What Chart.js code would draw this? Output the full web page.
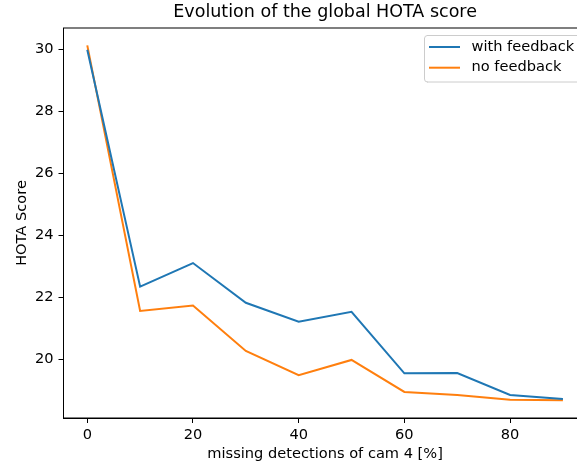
<!DOCTYPE html>
<html>
<head>
<meta charset="utf-8">
<script src="https://cdn.jsdelivr.net/npm/chart.js@4/dist/chart.umd.min.js"></script>
<style>
html,body{margin:0;padding:0;background:#fff;overflow:hidden;width:577px;height:465px;}
#wrap{position:absolute;left:0;top:0;width:600px;height:465px;}
</style>
</head>
<body>
<div id="wrap"><canvas id="c" width="600" height="465"></canvas></div>
<script>
const missingPct = [0, 10, 20, 30, 40, 50, 60, 70, 80, 90];
const withFeedback = [29.98, 22.35, 23.11, 21.83, 21.22, 21.54, 19.56, 19.57, 18.86, 18.73];
const noFeedback = [30.12, 21.57, 21.74, 20.28, 19.50, 19.99, 18.96, 18.86, 18.71, 18.69];
const xTicks = [0, 20, 40, 60, 80];
const yTicks = [20, 22, 24, 26, 28, 30];
const seriesLabels = ['with feedback', 'no feedback'];
const seriesColors = ['#1f77b4', '#ff7f0e'];

const FONT = 'DejaVu Sans';
const FS = 14.6;

const framePlugin = {
  id: 'frame',
  afterDatasetsDraw(chart) {
    const {ctx, chartArea: a} = chart;
    ctx.save();
    ctx.strokeStyle = '#000';
    ctx.lineWidth = 1;
    ctx.strokeRect(a.left, a.top, a.right - a.left, a.bottom - a.top);
    ctx.restore();
  }
};

const legendPlugin = {
  id: 'customLegend',
  afterDraw(chart) {
    const ctx = chart.ctx;
    const x0 = 424, y0 = 35, w = 170, h = 47;
    ctx.save();
    ctx.fillStyle = 'rgba(255,255,255,0.8)';
    ctx.strokeStyle = '#cccccc';
    ctx.lineWidth = 1;
    const r = 3;
    ctx.beginPath();
    ctx.moveTo(x0 + r, y0 + 0.5);
    ctx.lineTo(x0 + w - r, y0 + 0.5);
    ctx.arcTo(x0 + w, y0 + 0.5, x0 + w, y0 + r, r);
    ctx.lineTo(x0 + w, y0 + h - r);
    ctx.arcTo(x0 + w, y0 + h, x0 + w - r, y0 + h, r);
    ctx.lineTo(x0 + r, y0 + h);
    ctx.arcTo(x0 + 0.5, y0 + h, x0 + 0.5, y0 + h - r, r);
    ctx.lineTo(x0 + 0.5, y0 + r);
    ctx.arcTo(x0 + 0.5, y0 + 0.5, x0 + r, y0 + 0.5, r);
    ctx.closePath();
    ctx.fill();
    ctx.stroke();
    ctx.font = FS + 'px "' + FONT + '"';
    ctx.textBaseline = 'middle';
    ctx.fillStyle = '#000';
    chart.data.datasets.forEach((ds, i) => {
      const y = 47 + i * 20.7;
      ctx.strokeStyle = ds.borderColor;
      ctx.lineWidth = 2;
      ctx.beginPath();
      ctx.moveTo(429, y);
      ctx.lineTo(460, y);
      ctx.stroke();
      ctx.fillText(ds.label, 471.5, y);
    });
    ctx.restore();
  }
};

new Chart(document.getElementById('c'), {
  type: 'line',
  data: {
    labels: missingPct,
    datasets: [
      {label: seriesLabels[0], data: missingPct.map((x, i) => ({x, y: withFeedback[i]})), borderColor: seriesColors[0], backgroundColor: seriesColors[0], borderWidth: 2, pointRadius: 0, tension: 0, fill: false},
      {label: seriesLabels[1], data: missingPct.map((x, i) => ({x, y: noFeedback[i]})), borderColor: seriesColors[1], backgroundColor: seriesColors[1], borderWidth: 2, pointRadius: 0, tension: 0, fill: false}
    ]
  },
  options: {
    responsive: false,
    animation: false,
    events: [],
    layout: {padding: {left: 0, right: 13.3, top: 0, bottom: 0}},
    plugins: {
      legend: {display: false},
      tooltip: {enabled: false},
      title: {
        display: true,
        fullSize: false,
        text: 'Evolution of the global HOTA score',
        color: '#000',
        font: {family: FONT, size: 17.5, weight: 'normal', lineHeight: 1.2},
        padding: {top: 2, bottom: 5}
      }
    },
    scales: {
      x: {
        type: 'linear',
        min: -4.5,
        max: 94.5,
        afterBuildTicks(s) { s.ticks = xTicks.map(v => ({value: v})); },
        afterFit(s) { s.height = 47; },
        grid: {drawOnChartArea: false, drawTicks: true, tickLength: 5, tickColor: '#000', tickWidth: 1},
        border: {display: true, color: '#000', width: 1},
        ticks: {color: '#000', font: {family: FONT, size: FS}, padding: 3.5, maxRotation: 0, autoSkip: false},
        title: {display: true, text: 'missing detections of cam 4 [%]', color: '#000', font: {family: FONT, size: FS}, padding: {top: 0, bottom: 2}}
      },
      y: {
        type: 'linear',
        min: 18.12,
        max: 30.68,
        afterBuildTicks(s) { s.ticks = yTicks.map(v => ({value: v})); },
        afterFit(s) { s.width = 63.5; },
        grid: {drawOnChartArea: false, drawTicks: true, tickLength: 5, tickColor: '#000', tickWidth: 1},
        border: {display: true, color: '#000', width: 1},
        ticks: {color: '#000', font: {family: FONT, size: FS}, padding: 5, autoSkip: false},
        title: {display: true, text: 'HOTA Score', color: '#000', font: {family: FONT, size: FS}, padding: {top: 13, bottom: 0}}
      }
    }
  },
  plugins: [framePlugin, legendPlugin]
});
</script>
</body>
</html>
